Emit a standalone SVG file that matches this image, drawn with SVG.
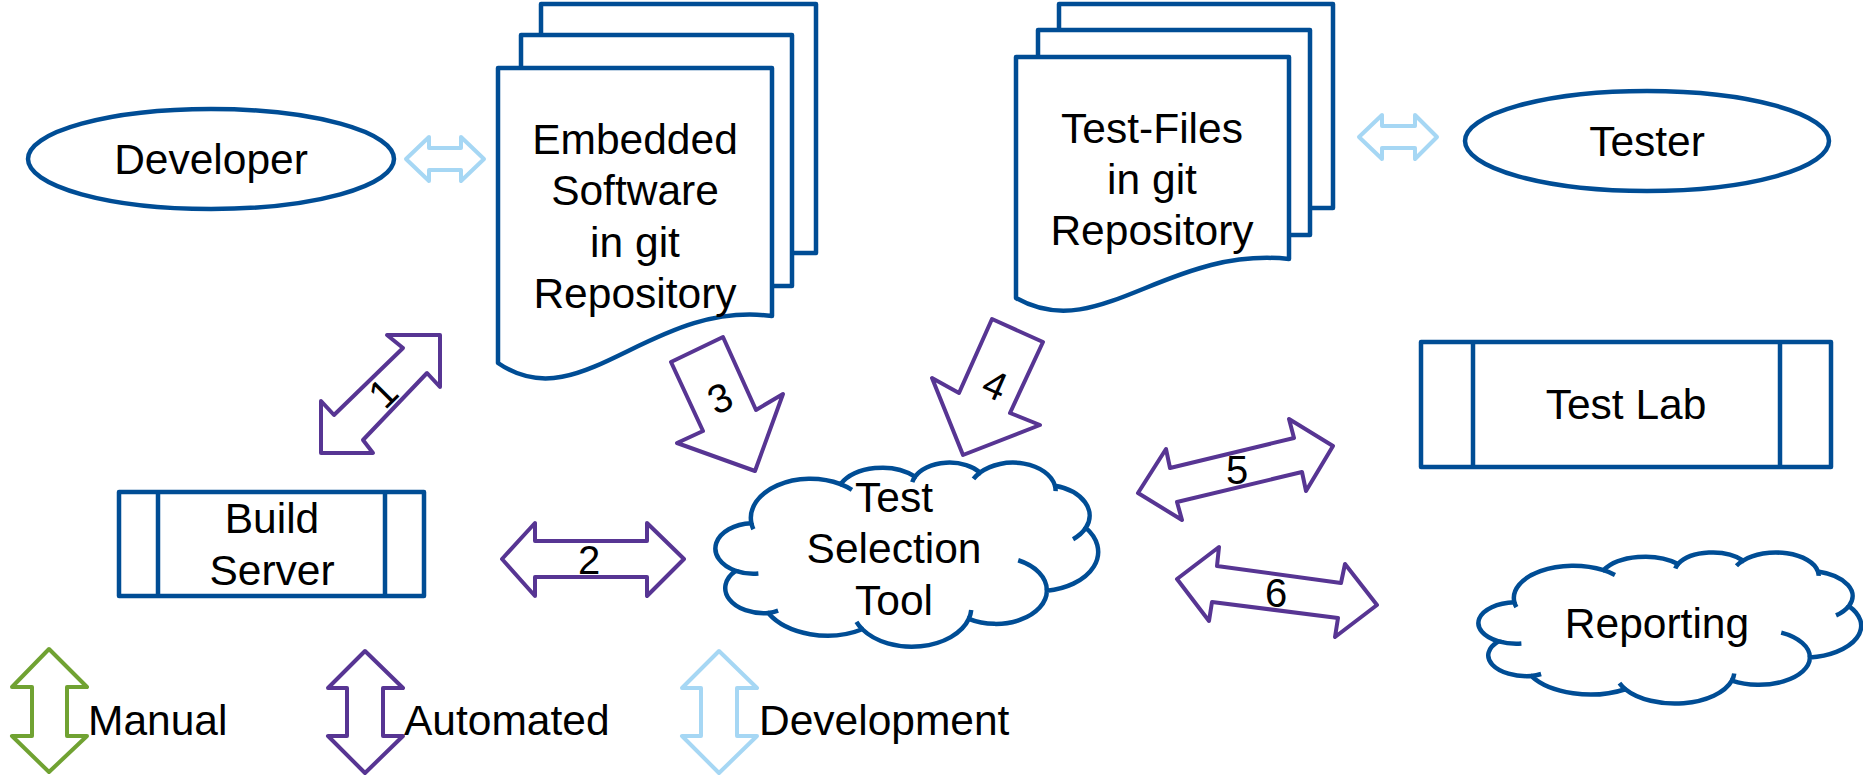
<svg xmlns="http://www.w3.org/2000/svg" xmlns:xlink="http://www.w3.org/1999/xlink" width="1863" height="779" viewBox="0 0 1863 779">
<style>
.blue{fill:#fff;stroke:#004D95;stroke-width:4.5;stroke-linejoin:round}
.bl{fill:none;stroke:#004D95;stroke-width:4.5;stroke-linejoin:round}
.pur{fill:#fff;stroke:#573593;stroke-width:4;stroke-linejoin:round}
.lb{fill:#fff;stroke:#A6D7F4;stroke-width:4;stroke-linejoin:round}
.gr{fill:#fff;stroke:#70A232;stroke-width:4;stroke-linejoin:round}
text{font-family:"Liberation Sans",Arial,sans-serif;font-size:42.5px;fill:#000}
.c{text-anchor:middle}
.n{font-size:40px;text-anchor:middle}
</style>
<defs>
<g id="cloud">
<path vector-effect="non-scaling-stroke" fill="#fff" stroke="#004D95" stroke-width="4.5" d="M3900 14370 A6753 9190 0 0 1 14004 5201 A5333 7267 0 0 1 22457 3433 A4365 5945 0 0 1 29834 2483 A4857 6595 0 0 1 38320 5576 A5333 7273 0 0 1 41820 15460 A6775 9220 0 0 1 37405 30202 A5785 7867 0 0 1 28556 36812 A6752 9215 0 0 1 16480 39263 A7720 10543 0 0 1 5803 35469 A4360 5918 0 0 1 2113 25546 A4345 5945 0 0 1 3900 14370 Z"/>
<path vector-effect="non-scaling-stroke" fill="none" stroke="#004D95" stroke-width="4.5" d="M4693 26177 A4345 5945 0 0 1 2113 25546 M6928 34899 A4360 5918 0 0 1 5803 35469 M16480 39263 A6752 9215 0 0 1 15813 37524 M28827 34751 A6752 9215 0 0 1 28556 36812 M34153 23066 A5785 7867 0 0 1 37405 30202 M41820 15460 A5333 7273 0 0 1 40372 18137 M38320 5576 A4857 6595 0 0 1 38397 6840 M29078 3952 A4857 6595 0 0 1 29834 2483 M22141 4720 A4365 5945 0 0 1 22457 3433 M14004 5201 A6753 9190 0 0 1 15303 6548 M4127 15789 A6753 9190 0 0 1 3900 14370"/>
</g>
</defs>
<rect width="1863" height="779" fill="#fff"/>

<g id="developer">
<ellipse class="blue" cx="211" cy="159" rx="183" ry="50"/>
<text class="c" x="211" y="174">Developer</text>
</g>

<g id="embedded-software">
<path class="blue" d="M541 35 V4 H816 V253 H792"/>
<path class="blue" d="M521 68 V35 H792 V286 H772"/>
<path class="blue" d="M498 68 H772 V316 C650 300 580 420 498 363 Z"/>
<text class="c" x="635" y="154">Embedded</text>
<text class="c" x="635" y="205">Software</text>
<text class="c" x="635" y="257">in git</text>
<text class="c" x="635" y="308">Repository</text>
</g>

<g id="test-files">
<path class="blue" d="M1059 30 V4 H1333 V208 H1310"/>
<path class="blue" d="M1038 57 V30 H1310 V235 H1289"/>
<path class="blue" d="M1016 57 H1289 V259 C1167 246 1098 345 1016 298 Z"/>
<text class="c" x="1152" y="143">Test-Files</text>
<text class="c" x="1152" y="194">in git</text>
<text class="c" x="1152" y="245">Repository</text>
</g>

<g id="tester">
<ellipse class="blue" cx="1647" cy="141" rx="182" ry="50"/>
<text class="c" x="1647" y="156">Tester</text>
</g>

<g id="build-server">
<rect class="blue" x="119" y="492" width="305" height="104"/>
<line class="bl" x1="158" y1="492" x2="158" y2="596"/>
<line class="bl" x1="385" y1="492" x2="385" y2="596"/>
<text class="c" x="272" y="533">Build</text>
<text class="c" x="272" y="585">Server</text>
</g>

<g id="test-lab">
<rect class="blue" x="1421" y="342" width="410" height="125"/>
<line class="bl" x1="1473" y1="342" x2="1473" y2="467"/>
<line class="bl" x1="1780" y1="342" x2="1780" y2="467"/>
<text class="c" x="1626" y="419">Test Lab</text>
</g>

<g id="test-selection-tool">
<use xlink:href="#cloud" transform="translate(717 462) scale(0.0088194 0.0042593)"/>
<text class="c" x="894" y="512">Test</text>
<text class="c" x="894" y="563">Selection</text>
<text class="c" x="894" y="615">Tool</text>
</g>

<g id="reporting">
<use xlink:href="#cloud" transform="translate(1480 552) scale(0.0088194 0.0034954)"/>
<text class="c" x="1657" y="638">Reporting</text>
</g>

<g id="connectors">
<polygon class="lb" points="406,159 429,137 429,148 461,148 461,137 484,159 461,181 461,170 429,170 429,181"/>
<polygon class="lb" points="1359,137 1382,115 1382,126 1415,126 1415,115 1437,137 1415,159 1415,148 1382,148 1382,159"/>
<polygon class="pur" points="387,335 440,335 440,387 427,373 363,440 373,453 321,453 321,401 334,415 403,348"/>
<text class="n" transform="translate(383 393) rotate(-45)" y="14">1</text>
<polygon class="pur" points="502,559 535,523 535,541 647,541 647,523 684,559 647,596 647,577 535,577 535,596"/>
<text class="n" x="589" y="574">2</text>
<polygon class="pur" points="671,362 723,337 756,410 783,394 755,471 677,443 703,431"/>
<text class="n" transform="translate(720 398) rotate(-25)" y="14">3</text>
<polygon class="pur" points="992,319 1043,342 1010,413 1040,425 963,455 932,378 959,393"/>
<text class="n" transform="translate(995 385) rotate(24)" y="14">4</text>
<polygon class="pur" points="1138,493 1166,449 1170,468 1294,438 1289,419 1333,446 1306,491 1302,472 1177,502 1182,520"/>
<text class="n" x="1237" y="484">5</text>
<polygon class="pur" points="1177,579 1219,547 1217,566 1341,583 1345,564 1377,605 1335,637 1338,618 1212,602 1209,621"/>
<text class="n" x="1276" y="607">6</text>
</g>

<g id="legend">
<polygon class="gr" points="49,649 87,687 67,687 67,736 87,736 49,772 12,736 32,736 32,687 12,687"/>
<text x="88" y="735">Manual</text>
<polygon class="pur" points="365,651 403,688 383,688 383,736 403,736 365,773 328,736 347,736 347,688 328,688"/>
<text x="404" y="735">Automated</text>
<polygon class="lb" points="719,651 757,688 737,688 737,736 757,736 719,773 682,736 701,736 701,688 682,688"/>
<text x="759" y="735">Development</text>
</g>
</svg>
